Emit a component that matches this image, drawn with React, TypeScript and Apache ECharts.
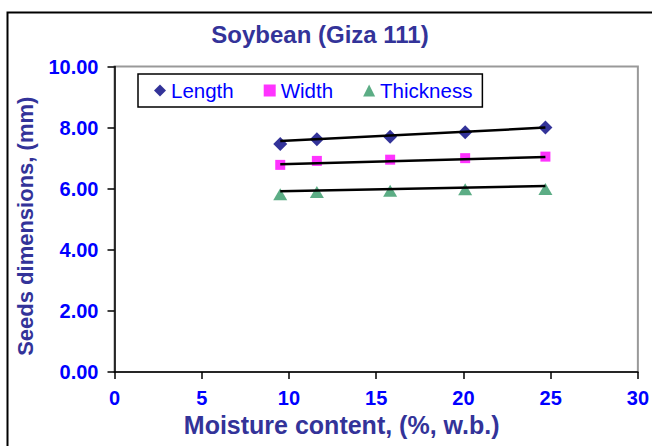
import React, { useEffect, useRef } from "react";
import * as echarts from "echarts";

const moisture = [9.5, 11.6, 15.8, 20.1, 24.7];
const lengthVals = [7.46, 7.62, 7.7, 7.85, 8.0];
const widthVals = [6.78, 6.91, 6.95, 7.0, 7.05];
const thicknessVals = [5.82, 5.89, 5.93, 5.98, 5.99];
// trend line values at first and last moisture content
const trendX = [9.5, 24.7];
const lengthTrend = [7.56, 8.0];
const widthTrend = [6.8, 7.04];
const thicknessTrend = [5.92, 6.09];

const FONT = "'Liberation Sans', Arial, sans-serif";

const pair = (xs: number[], ys: number[]) => xs.map((x, i) => [x, ys[i]]);

export default function App() {
  const ref = useRef<HTMLDivElement>(null);
  useEffect(() => {
    const chart = echarts.init(ref.current!, undefined, { renderer: "svg" });
    const trend = (name: string, ys: number[]) => ({
      name,
      type: "line",
      data: pair(trendX, ys),
      showSymbol: false,
      symbol: "none",
      lineStyle: { color: "#000", width: 2.5 },
      z: 5,
      silent: true,
    });
    chart.setOption({
      animation: false,
      textStyle: { fontFamily: FONT },
      title: {
        text: "Soybean (Giza 111)",
        left: 315,
        textAlign: "center",
        top: 17,
        textStyle: { color: "#333399", fontSize: 24, fontWeight: "bold", fontFamily: FONT },
      },
      graphic: [
        {
          type: "rect",
          shape: { x: 7.5, y: 12.5, width: 700, height: 500 },
          style: { fill: "none", stroke: "#000", lineWidth: 2 },
          silent: true,
          z: -1,
        },
      ],
      legend: {
        left: 138,
        top: 74,
        orient: "horizontal",
        data: [
          { name: "Length", icon: "diamond" },
          { name: "Width", icon: "rect" },
          { name: "Thickness", icon: "triangle" },
        ],
        itemWidth: 12,
        itemHeight: 12,
        itemGap: 30,
        padding: [6, 10, 6, 16],
        borderColor: "#000",
        borderWidth: 1.5,
        backgroundColor: "#fff",
        textStyle: { color: "#0000FF", fontSize: 20.5, fontFamily: FONT },
      },
      grid: {
        left: 114.5,
        right: 13,
        top: 66.5,
        bottom: 74,
        show: true,
        borderColor: "#999",
        borderWidth: 2,
        backgroundColor: "transparent",
      },
      xAxis: {
        type: "value",
        min: 0,
        max: 30,
        interval: 5,
        name: "Moisture content, (%, w.b.)",
        nameLocation: "middle",
        nameGap: 40,
        nameTextStyle: {
          color: "#333399",
          fontSize: 25,
          fontWeight: "bold",
          fontFamily: FONT,
          padding: [0, 69, 0, 0],
        },
        axisLine: { lineStyle: { color: "#000", width: 1.5 } },
        axisTick: { show: true, length: 7, lineStyle: { color: "#000", width: 1.5 } },
        axisLabel: { color: "#0000FF", fontSize: 20, fontWeight: "bold", margin: 16, fontFamily: FONT },
        splitLine: { show: false },
      },
      yAxis: {
        type: "value",
        min: 0,
        max: 10,
        interval: 2,
        name: "Seeds dimensions, (mm)",
        nameLocation: "middle",
        nameGap: 78,
        nameTextStyle: {
          color: "#333399",
          fontSize: 22,
          fontWeight: "bold",
          fontFamily: FONT,
          padding: [0, 14, 0, 0],
        },
        axisLine: { show: true, lineStyle: { color: "#000", width: 1.5 } },
        axisTick: { show: true, length: 7, lineStyle: { color: "#000", width: 1.5 } },
        axisLabel: {
          color: "#0000FF",
          fontSize: 20,
          fontWeight: "bold",
          margin: 16,
          fontFamily: FONT,
          formatter: (v: number) => v.toFixed(2),
        },
        splitLine: { show: false },
      },
      series: [
        {
          name: "Length",
          type: "scatter",
          data: pair(moisture, lengthVals),
          symbol: "diamond",
          symbolSize: 14,
          itemStyle: { color: "#000080" },
          z: 3,
        },
        {
          name: "Width",
          type: "scatter",
          data: pair(moisture, widthVals),
          symbol: "rect",
          symbolSize: 10,
          itemStyle: { color: "#FF00FF" },
          z: 3,
        },
        {
          name: "Thickness",
          type: "scatter",
          data: pair(moisture, thicknessVals),
          symbol: "triangle",
          symbolSize: [14, 12],
          itemStyle: { color: "#339966" },
          z: 3,
        },
        trend("LengthTrend", lengthTrend),
        trend("WidthTrend", widthTrend),
        trend("ThicknessTrend", thicknessTrend),
      ],
    });
    return () => chart.dispose();
  }, []);
  return (
    <div
      ref={ref}
      style={{ position: "fixed", left: 0, top: 0, width: 652, height: 446, background: "#fff" }}
    />
  );
}
